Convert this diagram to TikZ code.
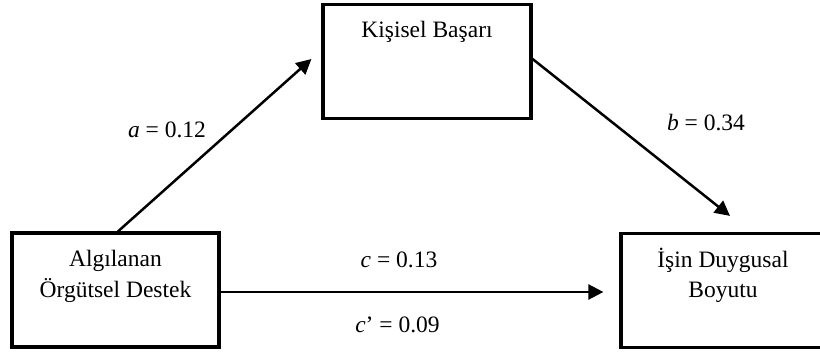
\documentclass[tikz,border=0pt]{standalone}
\usepackage{fontspec}
\setmainfont{Liberation Serif}
\usetikzlibrary{arrows.meta,calc}
\begin{document}
\begin{tikzpicture}[x=1pt,y=-1pt,
  boxnode/.style={draw=black,line width=3.2pt,minimum width=#1,minimum height=114pt,inner sep=0pt},
  txt/.style={font=\fontsize{23.5}{30}\selectfont,inner sep=0pt,anchor=base},
  conn/.style={line width=2.5pt,-{Triangle[length=15pt,width=15pt]}}]
\useasboundingbox (0,0) rectangle (820,353);
\clip (0,0) rectangle (820,353);
\fill[white] (0,0) rectangle (820,353);
% boxes
\node[boxnode=207pt] (lb) at (115.5,290) {};
\node[boxnode=208pt] (tb) at (427,61.5) {};
\node[boxnode=204pt] (rb) at (723,290.5) {};
% box texts
\node[txt] (tbt) at (427,37.5) {Kişisel Başarı};
\node[txt] (lbt1) at (115.5,266.5) {Algılanan};
\node[txt] (lbt2) at (115.5,297.5) {Örgütsel Destek};
\node[txt] (rbt1) at (723,267) {İşin Duygusal};
\node[txt] (rbt2) at (723,297.5) {Boyutu};
% connectors
\coordinate (atip) at ([xshift=-10pt,yshift=2.5pt]tb.west);
\coordinate (btip) at ([xshift=7pt,yshift=16pt]rb.north);
\coordinate (ctip) at ([xshift=-16pt,yshift=-1.5pt]rb.west);
\draw[conn] ([xshift=2.5pt]lb.north) -- (atip);
\draw[conn] ([yshift=2.5pt]tb.east) -- (btip);
\draw[conn] ([yshift=-2pt]lb.east) -- (ctip);
% labels
\node[txt] (la) at (167,138) {\textit{a} = 0.12};
\node[txt] (lbl) at (706,131) {\textit{b} = 0.34};
\node[txt] (lc) at (399,267) {\textit{c} = 0.13};
\node[txt] (lcp) at (397.5,332) {\textit{c}’ = 0.09};
\end{tikzpicture}
\end{document}
